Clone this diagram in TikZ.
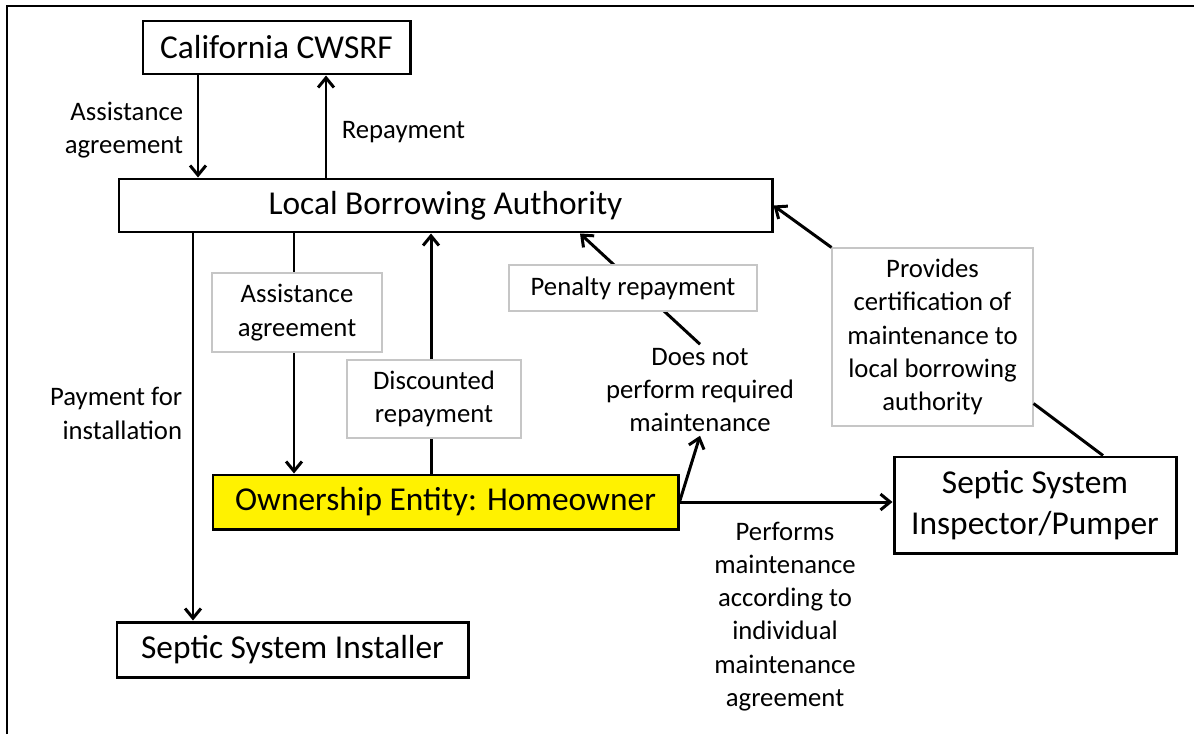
\documentclass[tikz,border=0pt]{standalone}
\usepackage{fontspec}
\setmainfont{Carlito}
\usetikzlibrary{arrows.meta}

\newcommand{\boxfont}{\fontsize{19}{23.3}\selectfont}
\newcommand{\lblfont}{\fontsize{15.2}{18.9}\selectfont}

\begin{document}
\begin{tikzpicture}[
    box/.style={draw, line width=1.7pt, fill=white, inner sep=0pt, align=center, font=\boxfont},
    note/.style={draw=gray!45, line width=0.6pt, fill=white, inner sep=0pt, align=center, font=\lblfont},
    lbl/.style={inner sep=2pt, font=\lblfont},
    arr/.style={line width=1.7pt, -{Straight Barb[length=5.5pt,width=9pt]}},
    link/.style={line width=1.7pt}
]
    \useasboundingbox (0,0) rectangle (23.88,14.68);

    % Cornice
    \draw[line width=1.2pt] (0.14,0) -- (0.14,14.56) -- (23.88,14.56);

    % Enti
    \node[box, minimum width=5.34cm, minimum height=1.06cm] (cwsrf) at (5.53,13.73) {California CWSRF};
    \node[box, minimum width=13.06cm, minimum height=1.06cm] (lba) at (8.91,10.57) {Local Borrowing Authority};
    \node[box, fill=yellow, minimum width=9.30cm, minimum height=1.08cm] (home) at (8.91,4.64) {Ownership Entity: Homeowner};
    \node[box, minimum width=7.02cm, minimum height=1.10cm] (inst) at (5.85,1.69) {Septic System Installer};
    \node[box, minimum width=5.64cm, minimum height=1.92cm] (insp) at (20.70,4.58) {Septic System\\Inspector/Pumper};

    % Certificazione
    \node[note, minimum width=4.02cm, minimum height=3.56cm] (prov) at (18.65,7.94)
        {Provides\\certification of\\maintenance to\\local borrowing\\authority};

    % Etichette libere
    \node[lbl, align=right, anchor=east] (assist) at (3.74,12.08) {Assistance\\agreement};
    \node[lbl, anchor=west] (repay) at (6.76,12.04) {Repayment};
    \node[lbl, align=right, anchor=east] (paylbl) at (3.72,6.41) {Payment for\\installation};
    \node[lbl, align=center] (dn) at (14.0,6.88) {Does not\\perform required\\maintenance};
    \node[lbl, align=center] (perf) at (15.70,2.35)
        {Performs\\maintenance\\according to\\individual\\maintenance\\agreement};

    % Frecce
    \draw[arr] (cwsrf.south -| 3.96,0) -- (lba.north -| 3.96,0);
    \draw[arr] (lba.north -| 6.52,0) -- (cwsrf.south -| 6.52,0);
    \draw[arr] (lba.south -| 3.86,0) -- (inst.north -| 3.86,0);
    \draw[arr] (lba.south -| 5.88,0) -- (home.north -| 5.88,0);
    \draw[arr] (home.north -| 8.62,0) -- (lba.south -| 8.62,0);
    \draw[arr] (dn.north) -- (lba.south -| 11.6,0);
    \draw[arr] (home.east) -- (dn.south);
    \draw[arr] (home.east) -- (home.east -| insp.west);
    \draw[arr] (prov.north west) -- (lba.east);
    \draw[link] ([yshift=0.46cm]prov.south east) -- (insp.north -| 22.06,0);

    % Etichette sulle frecce
    \node[note, minimum width=3.40cm, minimum height=1.58cm] (assist2) at (5.94,8.43) {Assistance\\agreement};
    \node[note, minimum width=3.48cm, minimum height=1.56cm] (disc) at (8.68,6.70) {Discounted\\repayment};
    \node[note, minimum width=4.96cm, minimum height=0.92cm] (pen) at (12.66,8.92) {Penalty repayment};
\end{tikzpicture}
\end{document}
